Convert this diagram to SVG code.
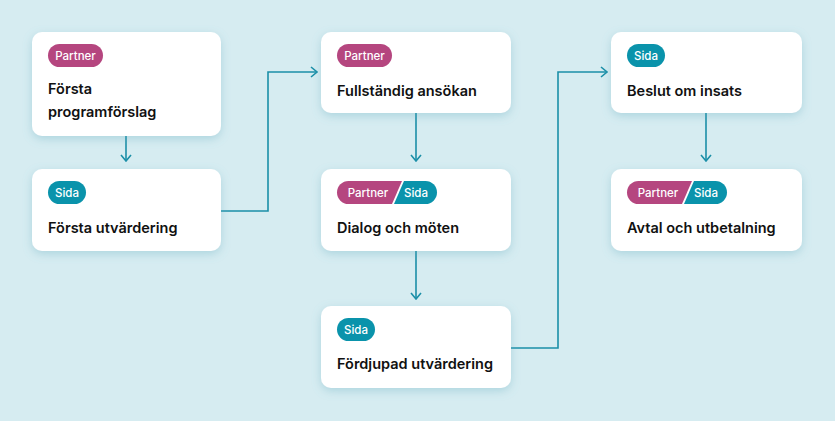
<svg xmlns="http://www.w3.org/2000/svg" width="835" height="421" viewBox="0 0 835 421">
<defs>
<filter id="sh" x="-20%" y="-20%" width="140%" height="150%"><feDropShadow dx="0" dy="3" stdDeviation="5" flood-color="#5fa9ba" flood-opacity="0.35"/></filter>
<marker id="ar" viewBox="0 0 12 8" refX="6" refY="7" markerWidth="12" markerHeight="8" markerUnits="userSpaceOnUse"><path d="M1 1 L6 7 L11 1" fill="none" stroke="#1b8fa8" stroke-width="1.6"/></marker>
<marker id="arr" viewBox="0 0 8 12" refX="7" refY="6" markerWidth="8" markerHeight="12" markerUnits="userSpaceOnUse"><path d="M1 1 L7 6 L1 11" fill="none" stroke="#1b8fa8" stroke-width="1.6"/></marker>
</defs>
<style>
.box{fill:#fff;filter:url(#sh)}
.t{font-family:Inter,"Liberation Sans",sans-serif;font-weight:600;font-size:14.5px;fill:#111}
.p{font-family:Inter,"Liberation Sans",sans-serif;font-weight:500;font-size:11.5px;fill:#fff}
.pa{fill:#b5467f}.si{fill:#0a93ab}
.c{fill:none;stroke:#1b8fa8;stroke-width:1.6}
</style>
<rect width="835" height="421" fill="#d6ecf1"/>
<g id="connectors">
<path class="c" d="M126 136 V161" marker-end="url(#ar)"/>
<path class="c" d="M221 211 H268 V72 H317" marker-end="url(#arr)"/>
<path class="c" d="M416 113 V161" marker-end="url(#ar)"/>
<path class="c" d="M416 251 V299" marker-end="url(#ar)"/>
<path class="c" d="M511 348 H558 V72 H607" marker-end="url(#arr)"/>
<path class="c" d="M706 113 V161" marker-end="url(#ar)"/>
</g>
<g id="n1"><rect class="box" x="32" y="32" width="189" height="104" rx="10"/>
<rect class="pa" x="48" y="44" width="55" height="23" rx="11.5"/><text class="p" x="75.5" y="59.5" text-anchor="middle">Partner</text>
<text class="t" x="48" y="94">Första</text><text class="t" x="48" y="117">programförslag</text></g>
<g id="n2"><rect class="box" x="32" y="169" width="189" height="82" rx="10"/>
<rect class="si" x="48" y="181" width="38" height="23" rx="11.5"/><text class="p" x="67" y="196.5" text-anchor="middle">Sida</text>
<text class="t" x="48" y="233">Första utvärdering</text></g>
<g id="n3"><rect class="box" x="321" y="32" width="190" height="81" rx="10"/>
<rect class="pa" x="337" y="44" width="55" height="23" rx="11.5"/><text class="p" x="364.5" y="59.5" text-anchor="middle">Partner</text>
<text class="t" x="337" y="96">Fullständig ansökan</text></g>
<g id="n4"><rect class="box" x="321" y="169" width="190" height="82" rx="10"/>
<path class="pa" d="M348.5 181 H402 L392 204 H348.5 A11.5 11.5 0 0 1 348.5 181 Z"/>
<path class="si" d="M404 181 H425.5 A11.5 11.5 0 0 1 425.5 204 H394 Z"/>
<text class="p" x="368" y="196.5" text-anchor="middle">Partner</text><text class="p" x="416" y="196.5" text-anchor="middle">Sida</text>
<text class="t" x="337" y="233">Dialog och möten</text></g>
<g id="n5"><rect class="box" x="321" y="306" width="190" height="82" rx="10"/>
<rect class="si" x="337" y="318" width="38" height="23" rx="11.5"/><text class="p" x="356" y="333.5" text-anchor="middle">Sida</text>
<text class="t" x="337" y="369">Fördjupad utvärdering</text></g>
<g id="n6"><rect class="box" x="611" y="32" width="191" height="81" rx="10"/>
<rect class="si" x="627" y="44" width="38" height="23" rx="11.5"/><text class="p" x="646" y="59.5" text-anchor="middle">Sida</text>
<text class="t" x="627" y="96">Beslut om insats</text></g>
<g id="n7"><rect class="box" x="611" y="169" width="191" height="82" rx="10"/>
<path class="pa" d="M638.5 181 H692 L682 204 H638.5 A11.5 11.5 0 0 1 638.5 181 Z"/>
<path class="si" d="M694 181 H715.5 A11.5 11.5 0 0 1 715.5 204 H684 Z"/>
<text class="p" x="658" y="196.5" text-anchor="middle">Partner</text><text class="p" x="706" y="196.5" text-anchor="middle">Sida</text>
<text class="t" x="627" y="233">Avtal och utbetalning</text></g>
</svg>
